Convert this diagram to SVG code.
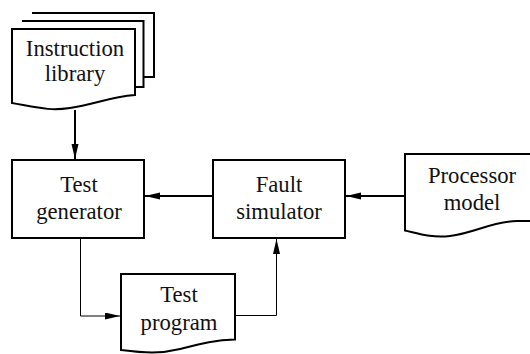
<svg xmlns="http://www.w3.org/2000/svg" width="530" height="354" viewBox="0 0 530 354">
  <style>
    .box { fill: #fff; stroke: #000; stroke-width: 2; stroke-linejoin: miter; }
    .lbl { font-family: 'Liberation Serif', 'Times New Roman', serif; font-size: 22.7px; fill: #111; text-anchor: middle; }
    .flow { fill: none; stroke: #000; stroke-width: 2; }
    .thin { fill: none; stroke: #000; stroke-width: 1; }
  </style>
  <defs>
    <marker id="arrow" markerUnits="userSpaceOnUse" markerWidth="16" markerHeight="8" refX="15" refY="3.5" orient="auto">
      <path d="M0,0 L15,3.5 L0,7 z" fill="#000"/>
    </marker>
  </defs>
  <rect width="530" height="354" fill="#fff"/>

  <!-- Connectors -->
  <g id="connectors">
    <line class="flow" x1="75" y1="110" x2="75" y2="159" marker-end="url(#arrow)"/>
    <line class="flow" x1="213" y1="196" x2="145" y2="196" marker-end="url(#arrow)"/>
    <line class="flow" x1="405" y1="196" x2="346" y2="196" marker-end="url(#arrow)"/>
    <polyline class="thin" points="80.5,238 80.5,316 120,316" marker-end="url(#arrow)"/>
    <polyline class="thin" points="235,315.5 276.5,315.5 276.5,239" marker-end="url(#arrow)"/>
  </g>

  <!-- Instruction library: stacked documents -->
  <g id="instruction-library">
    <path class="box" d="M32,13 H154 V77 H143"/>
    <path class="box" d="M22,21 H143.5 V87 H135"/>
    <path class="box" d="M12,29 H135 V95 C110,97 95,104 70,108 C50,111 40,108 12,103 Z"/>
    <text class="lbl" x="75" y="56">Instruction</text>
    <text class="lbl" x="75" y="81">library</text>
  </g>

  <g id="test-generator">
    <rect class="box" x="12" y="160" width="132" height="78"/>
    <text class="lbl" x="79" y="192">Test</text>
    <text class="lbl" x="79" y="219">generator</text>
  </g>

  <g id="fault-simulator">
    <rect class="box" x="213" y="160" width="132" height="78"/>
    <text class="lbl" x="279" y="192">Fault</text>
    <text class="lbl" x="279" y="219">simulator</text>
  </g>

  <g id="processor-model">
    <path class="box" d="M540,154 H405 V230.5 C420,234 432,238 450,236 C475,233 490,222 517,221 H540"/>
    <text class="lbl" x="472" y="183">Processor</text>
    <text class="lbl" x="472" y="210">model</text>
  </g>

  <g id="test-program">
    <path class="box" d="M121,274 H235 V339.5 C215,340 200,344 180,349 C160,354 145,353 121,350 Z"/>
    <text class="lbl" x="179" y="302">Test</text>
    <text class="lbl" x="179" y="330">program</text>
  </g>
</svg>
